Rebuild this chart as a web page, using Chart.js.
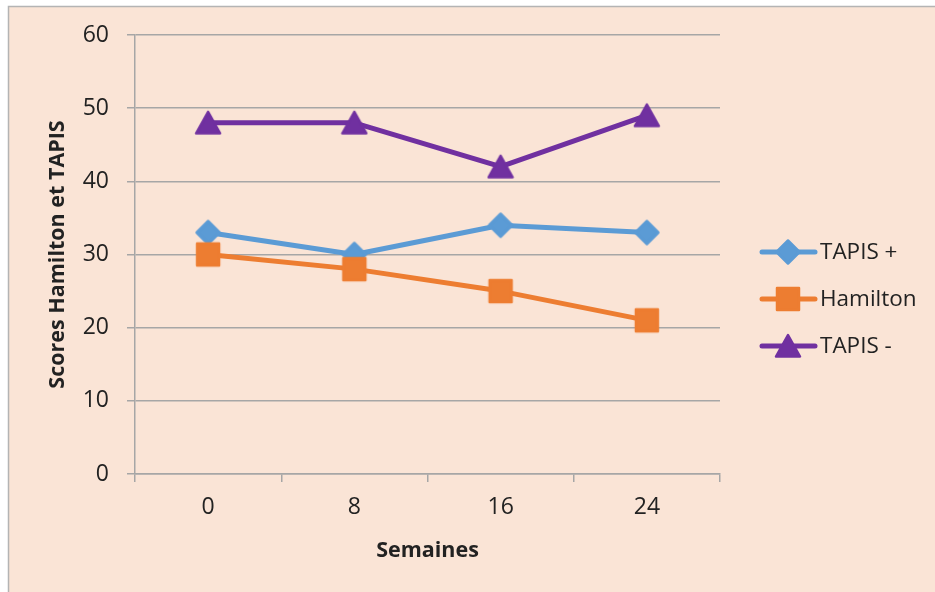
<!DOCTYPE html>
<html>
<head>
<meta charset="utf-8">
<script src="https://cdn.jsdelivr.net/npm/chart.js@4.4.1/dist/chart.umd.min.js"></script>
<style>
  html, body { margin: 0; padding: 0; background: #ffffff; }
  #wrap { width: 935px; height: 592px; position: relative; }
</style>
</head>
<body>
<div id="wrap"><canvas id="c" width="935" height="592"></canvas></div>
<script>
// Weeks of follow-up and scores per group
const weeks = ['0', '8', '16', '24'];
const tapisPlus = [33, 30, 34, 33];
const hamilton = [30, 28, 25, 21];
const tapisMinus = [48, 48, 42, 49];
const yTicks = [0, 10, 20, 30, 40, 50, 60];

const BLUE = '#5B9BD5';
const ORANGE = '#ED7D31';
const PURPLE = '#7030A0';
const GRID = '#A6A6A6';
const TEXT = '#222222';
const FONT = '"Open Sans", "Liberation Sans", sans-serif';

// Marker sprites with softly rounded corners
function makeMarker(kind, color) {
  const c = document.createElement('canvas');
  c.width = 28; c.height = 28;
  const g = c.getContext('2d');
  g.fillStyle = color; g.strokeStyle = color;
  g.lineWidth = 2.5; g.lineJoin = 'round';
  g.beginPath();
  if (kind === 'diamond') {
    g.moveTo(14, 2.5); g.lineTo(25.5, 14); g.lineTo(14, 25.5); g.lineTo(2.5, 14);
  } else if (kind === 'square') {
    g.rect(3, 3, 22, 22);
  } else {
    g.moveTo(14, 3); g.lineTo(26, 24.5); g.lineTo(2, 24.5);
  }
  g.closePath(); g.fill(); g.stroke();
  return c;
}

const markers = [
  makeMarker('diamond', BLUE),
  makeMarker('square', ORANGE),
  makeMarker('triangle', PURPLE)
];

const frame = {
  id: 'frame',
  beforeDraw(chart) {
    const ctx = chart.ctx;
    ctx.save();
    ctx.fillStyle = '#ffffff';
    ctx.fillRect(0, 0, chart.width, chart.height);
    ctx.fillStyle = '#FAE4D6';
    ctx.fillRect(8, 6, chart.width - 8, chart.height - 6);
    ctx.strokeStyle = '#B4B4B4';
    ctx.lineWidth = 1.5;
    ctx.beginPath();
    ctx.moveTo(8.5, chart.height); ctx.lineTo(8.5, 6.5); ctx.lineTo(chart.width, 6.5);
    ctx.stroke();
    ctx.restore();
  }
};

// Legend: line segment with marker, then series name
const sideLegend = {
  id: 'sideLegend',
  afterDraw(chart) {
    const ctx = chart.ctx;
    ctx.save();
    chart.data.datasets.forEach((ds, i) => {
      const y = 252 + i * 47;
      ctx.strokeStyle = ds.borderColor;
      ctx.lineWidth = 5;
      ctx.lineCap = 'round';
      ctx.beginPath(); ctx.moveTo(762, y); ctx.lineTo(815, y); ctx.stroke();
      const m = ds.pointStyle;
      ctx.drawImage(m, 788 - m.width / 2, y - m.height / 2);
      ctx.fillStyle = TEXT;
      ctx.font = '22.5px ' + FONT;
      ctx.textBaseline = 'middle';
      ctx.textAlign = 'left';
      ctx.fillText(ds.label, 820, y + 1);
    });
    ctx.restore();
  }
};

const mk = (label, data, color, marker, order) => ({
  label, data, order,
  borderColor: color, backgroundColor: color,
  borderWidth: 5, tension: 0,
  pointStyle: marker, pointRadius: 12, pointHoverRadius: 12,
  borderCapStyle: 'round', borderJoinStyle: 'round'
});

new Chart(document.getElementById('c'), {
  type: 'line',
  data: {
    labels: weeks,
    datasets: [
      mk('TAPIS +', tapisPlus, BLUE, markers[0], 3),
      mk('Hamilton', hamilton, ORANGE, markers[1], 2),
      mk('TAPIS -', tapisMinus, PURPLE, markers[2], 1)
    ]
  },
  options: {
    responsive: false,
    animation: false,
    events: [],
    layout: { padding: { left: 0, top: 35, right: 215, bottom: 0 } },
    plugins: { legend: { display: false }, tooltip: { enabled: false } },
    scales: {
      x: {
        offset: true,
        afterFit: s => { s.height = 118; },
        grid: { display: true, drawOnChartArea: false, drawTicks: true, tickLength: 8, color: GRID, lineWidth: 1.5, offset: true },
        border: { display: true, color: GRID, width: 1.5 },
        ticks: { color: TEXT, font: { family: FONT, size: 23 }, padding: 12 },
        title: { display: true, text: 'Semaines', color: TEXT, font: { family: FONT, size: 21.5, weight: 'bold' }, padding: { top: 0, bottom: 28 } }
      },
      y: {
        min: 0, max: 60,
        afterFit: s => { s.width = 135; },
        afterBuildTicks: s => { s.ticks = yTicks.map(v => ({ value: v })); },
        grid: { color: GRID, lineWidth: 1.5, drawTicks: true, tickLength: 8 },
        border: { display: true, color: GRID, width: 1.5 },
        ticks: { color: TEXT, font: { family: FONT, size: 23 }, padding: 18 },
        title: { display: true, text: 'Scores Hamilton et TAPIS', color: TEXT, font: { family: FONT, size: 21.5, weight: 'bold' }, padding: { top: 45, bottom: 0 } }
      }
    }
  },
  plugins: [frame, sideLegend]
});
</script>
</body>
</html>
